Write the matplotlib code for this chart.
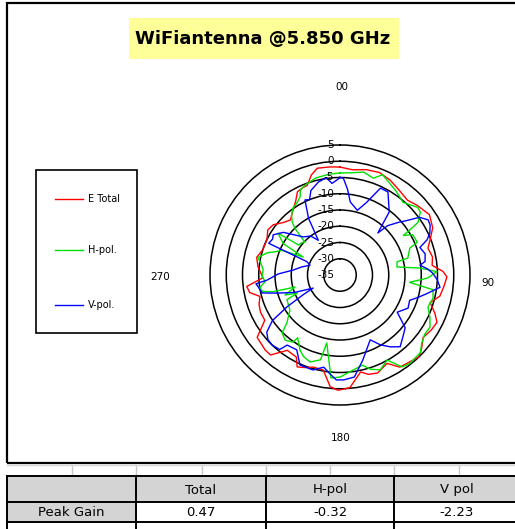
import numpy as np
import matplotlib.pyplot as plt
from matplotlib.patches import Rectangle
from matplotlib.lines import Line2D

W, H = 515, 529

# E Total trace (deg, dB)
ang_total = [0, 7, 14, 21, 28, 35, 42, 48, 56, 63, 68, 73, 79, 84, 88, 91, 96, 102, 107, 112,
             116, 121, 127, 132, 136, 142, 147, 152, 159, 164, 168, 175, 181, 185, 190, 196,
             201, 205, 208, 215, 221, 225, 233, 239, 245, 250, 255, 259, 263, 268, 272, 276,
             282, 288, 296, 302, 307, 313, 318, 324, 329, 333, 337, 340, 344, 348, 355]
e_total = [-1.8, -2.4, -1.6, -1.2, -2.0, -3.2, -4.0, -3.0, -1.8, -3.0, -5.0, -6.7, -6.0, -6.5,
           -3.3, -2.1, -2.8, -3.6, -6.0, -3.5, -1.8, -2.2, -3.0, -1.2, 0.0, -0.8, -1.2, -4.2,
           -2.7, -3.2, -4.5, -0.2, 0.47, -0.5, -5.3, -5.5, -4.5, -3.8, -6.4, -6.7, -2.4, -2.4,
           -3.1, -8.0, -8.0, -8.5, -9.5, -6.7, -6.1, -11.3, -10.5, -9.6, -8.8, -10.0, -10.0,
           -8.8, -9.3, -11.3, -12.2, -10.4, -8.5, -6.2, -5.8, -5.6, -3.0, -1.4, -1.6]

# H-pol trace
ang_h = [0, 7, 13, 19, 23, 28, 34, 41, 49, 52, 54, 56, 57, 58, 61, 67, 69, 76, 77, 82, 85, 88,
         92, 96, 99, 104, 110, 115, 120, 125, 130, 134, 142, 146, 151, 157, 162, 166, 172, 180,
         185, 191, 193, 199, 204, 208, 214, 215, 220, 225, 228, 235, 245, 247, 250, 255, 256,
         258, 261, 265, 269, 274, 278, 282, 287, 290, 293, 296, 299, 302, 304, 306, 310, 313,
         316, 318, 321, 325, 329, 333, 335, 339, 346, 354]
h_pol = [-3.6, -3.3, -2.5, -3.5, -1.5, -2.8, -4.0, -5.4, -3.3, -3.6, -5.0, -6.0, -9.0, -12.0,
         -9.4, -9.2, -12.0, -13.5, -17.0, -17.3, -10.4, -5.2, -8.0, -13.5, -6.0, -5.5, -6.2,
         -4.5, -3.0, -3.2, -2.2, -0.6, -0.32, -0.9, -5.1, -3.3, -4.5, -6.4, -5.5, -3.6, -3.2,
         -13.7, -8.2, -6.7, -7.5, -8.8, -11.7, -9.8, -8.8, -9.8, -13.0, -16.2, -17.0, -20.7,
         -17.0, -20.7, -13.8, -10.7, -10.0, -11.9, -11.0, -11.3, -10.5, -9.2, -11.6, -14.0,
         -15.6, -22.4, -15.0, -13.3, -12.0, -19.3, -19.6, -20.2, -15.0, -13.0, -11.3, -9.8,
         -9.2, -8.0, -6.1, -5.3, -4.2, -3.8]

# V-pol trace
ang_v = [0, 2, 5, 8, 15, 20, 25, 30, 33, 38, 42, 44, 48, 51, 54, 58, 61, 65, 68, 71, 76, 81,
         83, 86, 89, 93, 97, 102, 106, 110, 116, 123, 129, 134, 140, 145, 150, 155, 159, 165,
         172, 178, 182, 186, 190, 196, 204, 210, 217, 219, 224, 228, 232, 236, 239, 242, 244,
         249, 254, 257, 262, 264, 266, 271, 276, 282, 288, 292, 294, 298, 301, 307, 316, 323,
         328, 331, 335, 338, 341, 347, 352, 355, 358]
v_pol = [-5.0, -5.2, -8.5, -12.3, -14.4, -11.3, -5.5, -5.5, -7.6, -10.4, -17.6, -13.9, -10.8,
         -8.3, -4.8, -3.0, -3.3, -4.5, -6.1, -9.0, -8.0, -8.5, -10.2, -8.0, -6.4, -5.0, -4.0,
         -7.6, -10.0, -12.2, -11.7, -14.0, -9.2, -8.0, -6.2, -8.0, -10.2, -13.0, -11.3, -7.9,
         -3.3, -2.7, -2.7, -4.5, -6.2, -4.6, -4.7, -8.4, -8.0, -5.5, -5.0, -5.2, -6.4, -9.9,
         -16.0, -22.4, -25.8, -20.0, -14.8, -10.4, -9.5, -9.0, -12.5, -16.0, -20.5, -23.0,
         -25.3, -24.0, -11.0, -11.5, -11.0, -13.2, -18.7, -20.0, -22.4, -15.0, -9.5, -10.0,
         -7.5, -5.6, -4.8, -6.7, -5.8]

ring_levels = [5, 0, -5, -10, -15, -20, -25, -30, -35]
series_names = ["E Total", "H-pol.", "V-pol."]
series_colors = ["#ff0000", "#00e000", "#0000ff"]

table_cols = ["Total", "H-pol", "V pol"]
peak_gain = [0.47, -0.32, -2.23]


def fx(x):
    return x / W


def fy(y):
    return 1 - y / H


fig = plt.figure(figsize=(W / 100, H / 100), dpi=100)

# outer frame of the chart
fig.patches.append(Rectangle((fx(7), fy(463)), fx(520) - fx(7), fy(3) - fy(463),
                             transform=fig.transFigure, fill=False, ec="black", lw=1.6))

# title
fig.patches.append(Rectangle((fx(129), fy(59)), fx(399) - fx(129), fy(18) - fy(59),
                             transform=fig.transFigure, fc="#ffff99", ec="none"))
fig.text(fx(263), fy(39), "WiFiantenna @5.850 GHz", ha="center", va="center",
         fontsize=13, fontweight="bold")

# polar plot
cx, cy, R = 340, 275, 130
ax = fig.add_axes([fx(cx - R), fy(cy + R), 2 * R / W, 2 * R / H], projection="polar")
ax.set_theta_zero_location("N")
ax.set_theta_direction(-1)
ax.set_ylim(-35, 5)
ax.set_yticks([-30, -25, -20, -15, -10, -5, 0])
ax.set_yticklabels([])
ax.set_xticks([])
ax.yaxis.grid(True, color="black", lw=1.1)
ax.spines["polar"].set_color("black")
ax.spines["polar"].set_linewidth(1.1)
ax.set_facecolor("none")

for ang, vals, col in zip([ang_total, ang_h, ang_v], [e_total, h_pol, v_pol], series_colors):
    th = np.deg2rad(ang + [ang[0]])
    ax.plot(th, vals + [vals[0]], color=col, lw=1.0)

for lv in ring_levels:
    ry = cy - (lv + 35) / 40 * R
    fig.text(fx(334), fy(ry), str(lv), ha="right", va="center", fontsize=7.5)

fig.text(fx(342), fy(87), "00", ha="center", va="center", fontsize=7.5)
fig.text(fx(488), fy(283), "90", ha="center", va="center", fontsize=7.5)
fig.text(fx(160), fy(277), "270", ha="center", va="center", fontsize=7.5)
fig.text(fx(341), fy(438), "180", ha="center", va="center", fontsize=7.5)

# legend box
fig.patches.append(Rectangle((fx(36), fy(333)), fx(137) - fx(36), fy(170) - fy(333),
                             transform=fig.transFigure, fill=False, ec="black", lw=1.2))
for name, col, ly in zip(series_names, series_colors, [199, 250, 305]):
    fig.lines.append(Line2D([fx(55), fx(83)], [fy(ly), fy(ly)], transform=fig.transFigure,
                            color=col, lw=1.0))
    fig.text(fx(88), fy(ly), name, ha="left", va="center", fontsize=7)

# spreadsheet strip under the chart
for gx in [72, 136, 202, 266, 330, 394, 459]:
    fig.lines.append(Line2D([fx(gx), fx(gx)], [fy(465), fy(476)], transform=fig.transFigure,
                            color="#c8c8c8", lw=1.0))
fig.lines.append(Line2D([fx(7), fx(520)], [fy(465), fy(465)], transform=fig.transFigure,
                        color="#d8d8d8", lw=1.0))

col_edges = [7, 136, 266, 394, 520]
row_edges = [476, 502, 522, 540]
gray = "#d4d4d4"
for i in range(4):
    fig.patches.append(Rectangle((fx(col_edges[i]), fy(row_edges[1])),
                                 fx(col_edges[i + 1]) - fx(col_edges[i]),
                                 fy(row_edges[0]) - fy(row_edges[1]),
                                 transform=fig.transFigure, fc=gray, ec="none"))
fig.patches.append(Rectangle((fx(7), fy(row_edges[2])), fx(136) - fx(7),
                             fy(row_edges[1]) - fy(row_edges[2]),
                             transform=fig.transFigure, fc=gray, ec="none"))
for ry in row_edges[:3]:
    fig.lines.append(Line2D([fx(7), fx(520)], [fy(ry), fy(ry)], transform=fig.transFigure,
                            color="black", lw=1.4))
for gx in col_edges[:4]:
    fig.lines.append(Line2D([fx(gx), fx(gx)], [fy(476), fy(540)], transform=fig.transFigure,
                            color="black", lw=1.4))

for i, name in enumerate(table_cols):
    mid = (col_edges[i + 1] + col_edges[i + 2]) / 2
    fig.text(fx(mid), fy(490), name, ha="center", va="center", fontsize=9.5)
    fig.text(fx(mid), fy(512.5), f"{peak_gain[i]:.2f}", ha="center", va="center", fontsize=9.5)
fig.text(fx(71.5), fy(512.5), "Peak Gain", ha="center", va="center", fontsize=9.5)

fig.savefig("out.png", dpi=100)
